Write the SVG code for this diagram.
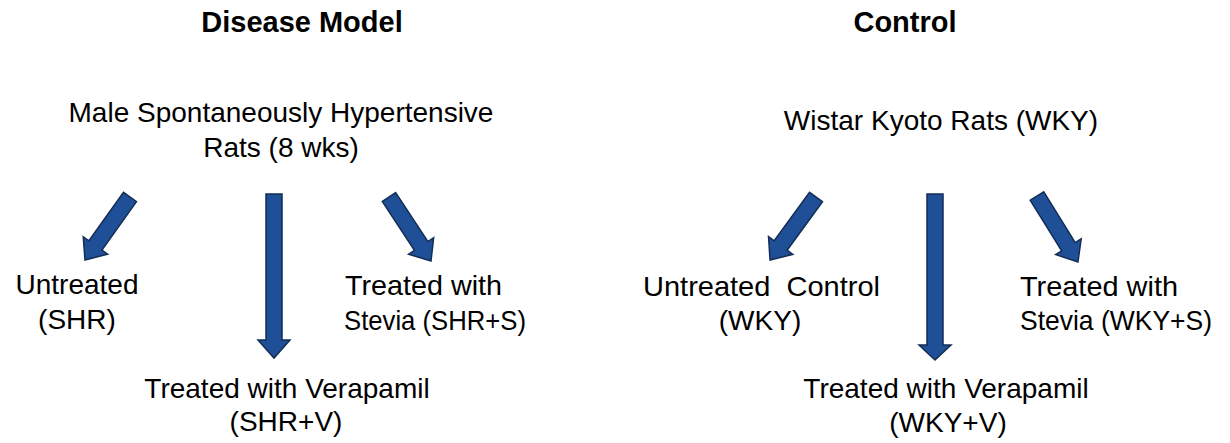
<svg xmlns="http://www.w3.org/2000/svg" width="1230" height="443" viewBox="0 0 1230 443">
<style>
text{font-family:"Liberation Sans",Arial,sans-serif;fill:#000;}
.t{font-size:28px;}
.h{font-size:29px;font-weight:bold;}
.m{text-anchor:middle;}
.pre{white-space:pre;}
.arr{fill:#1f4f96;stroke:#132d55;stroke-width:1.5;stroke-linejoin:miter;}
</style>
<rect width="1230" height="443" fill="#fff"/>
<g id="title-disease"><text class="h m" x="302" y="32">Disease Model</text></g>
<g id="title-control"><text class="h m" x="905" y="32">Control</text></g>
<g id="shr-root">
<text class="t m" x="281" y="122">Male Spontaneously Hypertensive</text>
<text class="t m" x="281" y="157">Rats (8 wks)</text>
</g>
<g id="shr-untreated">
<text class="t m" x="77" y="294">Untreated</text>
<text class="t m" x="77" y="329">(SHR)</text>
</g>
<g id="shr-stevia">
<text class="t" x="345" y="295" textLength="157" lengthAdjust="spacingAndGlyphs">Treated with</text>
<text class="t" x="344" y="330" textLength="182" lengthAdjust="spacingAndGlyphs">Stevia (SHR+S)</text>
</g>
<g id="shr-verapamil">
<text class="t m" x="287" y="398">Treated with Verapamil</text>
<text class="t m" x="286" y="431">(SHR+V)</text>
</g>
<g id="wky-root">
<text class="t m" x="941" y="130">Wistar Kyoto Rats (WKY)</text>
</g>
<g id="wky-untreated">
<text class="t pre" x="643" y="296" textLength="237" lengthAdjust="spacingAndGlyphs" xml:space="preserve">Untreated  Control</text>
<text class="t m" x="760" y="330">(WKY)</text>
</g>
<g id="wky-stevia">
<text class="t" x="1020" y="296" textLength="158" lengthAdjust="spacingAndGlyphs">Treated with</text>
<text class="t" x="1020" y="330" textLength="192" lengthAdjust="spacingAndGlyphs">Stevia (WKY+S)</text>
</g>
<g id="wky-verapamil">
<text class="t m" x="946" y="398">Treated with Verapamil</text>
<text class="t m" x="948" y="432">(WKY+V)</text>
</g>
<g id="connectors">
<path class="arr" transform="translate(130,197) rotate(125.5)" d="M0,-8 L59.5,-8 L59.5,-15 L77.5,0 L59.5,15 L59.5,8 L0,8 Z"/>
<path class="arr" transform="translate(274,194) rotate(90)" d="M0,-8 L146,-8 L146,-16 L164,0 L146,16 L146,8 L0,8 Z"/>
<path class="arr" transform="translate(389,197) rotate(56.7)" d="M0,-8 L58.5,-8 L58.5,-15 L76.5,0 L58.5,15 L58.5,8 L0,8 Z"/>
<path class="arr" transform="translate(816,197) rotate(126.1)" d="M0,-8 L60,-8 L60,-15 L78,0 L60,15 L60,8 L0,8 Z"/>
<path class="arr" transform="translate(935,194) rotate(90)" d="M0,-8 L151,-8 L151,-16 L166,0 L151,16 L151,8 L0,8 Z"/>
<path class="arr" transform="translate(1037,196) rotate(58.2)" d="M0,-8 L59.7,-8 L59.7,-15 L77.7,0 L59.7,15 L59.7,8 L0,8 Z"/>
</g>
</svg>
